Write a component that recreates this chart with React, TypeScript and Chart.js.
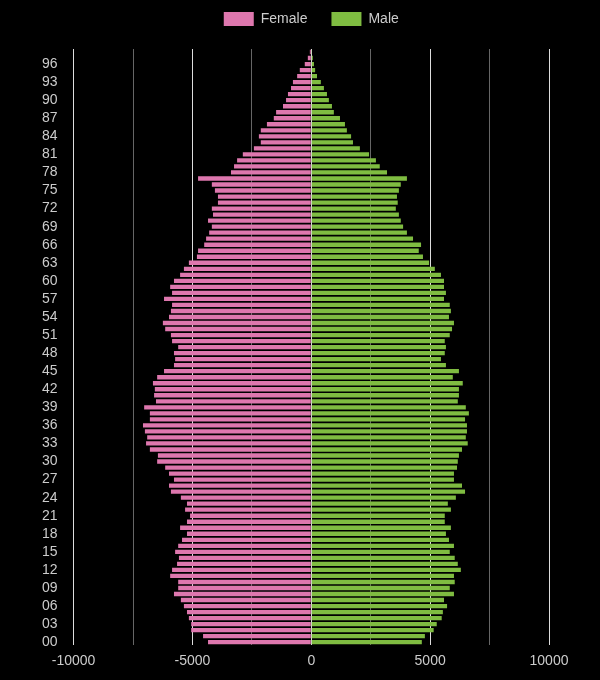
import React, { useEffect, useRef } from 'react';
import Chart from 'chart.js/auto';

// ages 0..98, bottom to top
const ages = Array.from({ length: 99 }, (_, i) => String(i).padStart(2, '0'));

// female counts (drawn to the left as negatives), age 0 first
const female = [
  -4344, -4553, -5052, -5052, -5149, -5229, -5358, -5486, -5776, -5599,
  -5599, -5937, -5857, -5647, -5567, -5728, -5599, -5438, -5229, -5519,
  -5229, -5100, -5309, -5229, -5486, -5905, -5985, -5776, -5985, -6146,
  -6484, -6452, -6790, -6951, -6903, -6999, -7080, -6790, -6790, -7031,
  -6533, -6613, -6581, -6661, -6484, -6195, -5776, -5728, -5776, -5599,
  -5857, -5905, -6146, -6243, -5985, -5905, -5857, -6195, -5857, -5937,
  -5776, -5519, -5358, -5149, -4811, -4763, -4505, -4425, -4296, -4183,
  -4344, -4135, -4183, -3926, -3926, -4054, -4183, -4763, -3379, -3250,
  -3121, -2880, -2414, -2124, -2204, -2124, -1866, -1577, -1480, -1190,
  -1062, -981, -853, -772, -595, -483, -274, -145, -60,
];

// male counts, age 0 first
const male = [
  4650, 4779, 5148, 5277, 5486, 5535, 5712, 5583, 6002, 5825,
  6034, 6002, 6291, 6163, 6034, 5825, 6002, 5792, 5664, 5873,
  5615, 5615, 5873, 5744, 6082, 6468, 6340, 6002, 6002, 6130,
  6163, 6211, 6340, 6581, 6500, 6549, 6549, 6468, 6629, 6500,
  6163, 6211, 6211, 6372, 5953, 6211, 5664, 5455, 5615, 5664,
  5615, 5825, 5921, 6002, 5792, 5873, 5825, 5583, 5664, 5583,
  5583, 5455, 5197, 4956, 4698, 4521, 4618, 4280, 4023, 3862,
  3765, 3685, 3556, 3636, 3604, 3685, 3765, 4023, 3186, 2880,
  2719, 2430, 2044, 1754, 1674, 1497, 1416, 1207, 949, 869,
  740, 660, 531, 402, 241, 161, 113, 64, 30,
];

const xTicks = [-10000, -5000, 0, 5000, 10000];

// extra room under the legend
const legendGap = {
  id: 'legendGap',
  beforeInit(chart) {
    const fit = chart.legend.fit;
    chart.legend.fit = function () {
      fit.bind(chart.legend)();
      this.height += 13;
    };
  },
};

const Pyramid = () => {
  const canvasRef = useRef(null);
  const chartRef = useRef(null);

  useEffect(() => {
    const ctx = canvasRef.current.getContext('2d');
    chartRef.current = new Chart(ctx, {
      type: 'bar',
      data: {
        labels: ages,
        datasets: [
          { label: 'Female', data: female, backgroundColor: '#de77ae' },
          { label: 'Male', data: male, backgroundColor: '#7fbc41' },
        ],
      },
      plugins: [legendGap],
      options: {
        indexAxis: 'y',
        animation: false,
        responsive: false,
        // negative top so the wider legend padding doesn't push it down
        layout: { padding: { top: -12, right: 51, bottom: 2, left: 34 } },
        plugins: {
          legend: {
            position: 'top',
            fullSize: false,
            labels: {
              color: '#ccc',
              boxWidth: 30,
              boxHeight: 14,
              padding: 24,
              font: { family: 'Liberation Sans', size: 14 },
            },
          },
          tooltip: { enabled: false },
        },
        scales: {
          x: {
            stacked: true,
            min: -10000,
            max: 10000,
            border: { display: false },
            grid: {
              drawTicks: false,
              color: (c) => (c.tick && c.tick.value % 5000 === 0 ? '#ddd' : '#666'),
            },
            ticks: {
              stepSize: 2500,
              padding: 8,
              color: '#ccc',
              font: { family: 'Liberation Sans', size: 14 },
              callback: (v) => (xTicks.includes(v) ? String(v) : ''),
            },
          },
          y: {
            stacked: true,
            reverse: true,
            border: { display: false },
            grid: { display: false },
            ticks: {
              autoSkip: false,
              padding: 8,
              color: '#ccc',
              font: { family: 'Liberation Sans', size: 14 },
              callback: (v, i) => (i % 3 === 0 ? ages[i] : ''),
            },
          },
        },
      },
    });
    return () => {
      if (chartRef.current) chartRef.current.destroy();
    };
  }, []);

  return (
    <div style={{ position: 'fixed', left: 0, top: 0, width: 600, height: 680, background: '#000' }}>
      <canvas ref={canvasRef} width={600} height={680} style={{ display: 'block' }} />
    </div>
  );
};

export default function App() {
  return <Pyramid />;
}
